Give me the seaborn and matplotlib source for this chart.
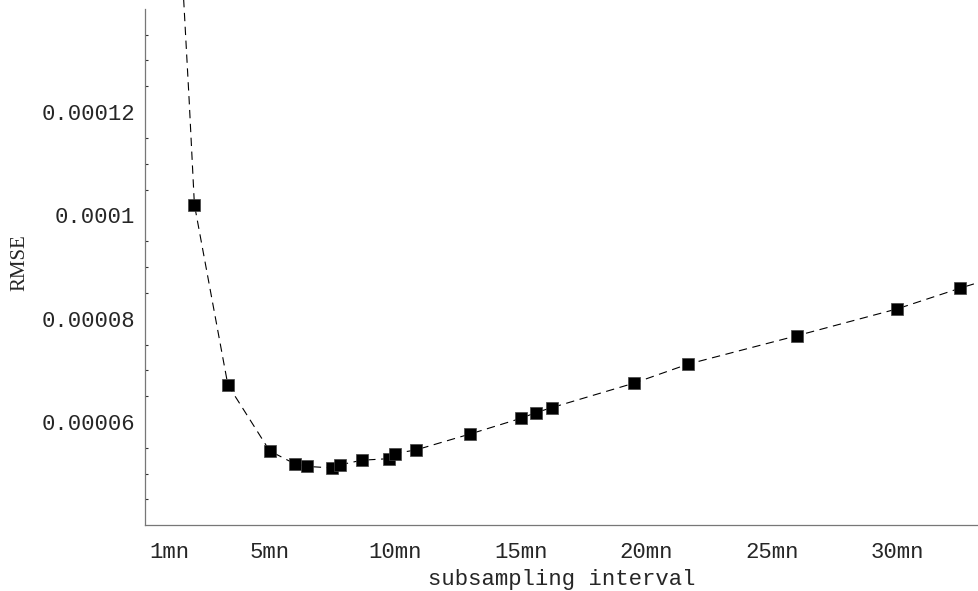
import numpy as np
import pandas as pd
import matplotlib
matplotlib.use("Agg")
import matplotlib.pyplot as plt
from matplotlib.font_manager import FontProperties
import seaborn as sns

# ==================== data ====================
# subsampling interval in minutes (divisors of a 6.5h day)
interval_mn = [2.0, 3.333, 5.0, 6.0, 6.5, 7.5, 7.8, 8.667, 9.75, 10.0,
               10.833, 13.0, 15.0, 15.6, 16.25, 19.5, 21.667, 26.0, 30.0, 32.5]
rmse = [0.0001021, 0.0000672, 0.0000544, 0.0000519, 0.0000514, 0.0000511,
        0.0000517, 0.0000526, 0.0000529, 0.0000539, 0.0000546, 0.0000577,
        0.0000607, 0.0000618, 0.0000628, 0.0000675, 0.0000712, 0.0000767,
        0.0000819, 0.0000859]

# dashed curve: read points beyond the markers (left top and right edge)
curve_left_x = [1.57, 1.79]
curve_left_y = [0.000142, 0.0001224]
curve_right_x = [33.3]
curve_right_y = [0.0000871]

xtick_vals = [1, 5, 10, 15, 20, 25, 30]
xtick_labels = ["1mn", "5mn", "10mn", "15mn", "20mn", "25mn", "30mn"]
ytick_vals = [0.00006, 0.00008, 0.0001, 0.00012]
ytick_labels = ["0.00006", "0.00008", "0.0001", "0.00012"]

points = pd.DataFrame({"interval": interval_mn, "rmse": rmse})
curve = pd.DataFrame({
    "interval": curve_left_x + interval_mn + curve_right_x,
    "rmse": curve_left_y + rmse + curve_right_y,
})

# ==================== plot ====================
sns.set_style("white")
plt.rcParams['font.family'] = ['Liberation Mono', 'DejaVu Sans']

fig = plt.figure(figsize=(9.79, 5.91), dpi=100)
ax = fig.add_axes([145 / 979, 1 - 525.3 / 591, (979 - 145) / 979, 525.3 / 591])

sns.lineplot(data=curve, x="interval", y="rmse", ax=ax, color="black",
             linewidth=0.8, dashes=False, sort=False)
ax.lines[-1].set_dashes((7.5, 5))
sns.scatterplot(data=points, x="interval", y="rmse", ax=ax, marker="s",
                s=80, color="black", edgecolor="#444444", linewidth=0.5,
                zorder=3)

ax.set_xlim(0.032, 33.26)
ax.set_ylim(0.00004, 0.0001417)

ax.spines['top'].set_visible(False)
ax.spines['right'].set_visible(False)
for side in ['left', 'bottom']:
    ax.spines[side].set_color("#777777")
    ax.spines[side].set_linewidth(0.9)
ax.spines['left'].set_bounds(0.00004, 0.00014)

ax.set_xticks(xtick_vals)
ax.set_xticklabels(xtick_labels)
ax.set_yticks(ytick_vals)
ax.set_yticklabels(ytick_labels)
minor_y = [v for v in np.arange(0.000045, 0.000136, 0.000005)
           if min(abs(v - t) for t in ytick_vals) > 1e-7]
ax.set_yticks(minor_y, minor=True)

ax.tick_params(axis='both', which='major', direction='in', length=4.5,
               width=0.8, color="#333333", labelsize=16)
ax.tick_params(axis='x', which='major', pad=12)
ax.tick_params(axis='y', which='major', pad=7)
ax.tick_params(axis='y', which='minor', direction='in', length=2.5,
               width=0.8, color="#333333", left=True)
ax.tick_params(axis='x', which='minor', bottom=False)

ax.set_xlabel("subsampling interval", fontsize=16, labelpad=4)
ax.set_ylabel("RMSE", fontproperties=FontProperties(family='Liberation Serif', size=15),
              labelpad=9)

fig.savefig("out.png", dpi=100)
